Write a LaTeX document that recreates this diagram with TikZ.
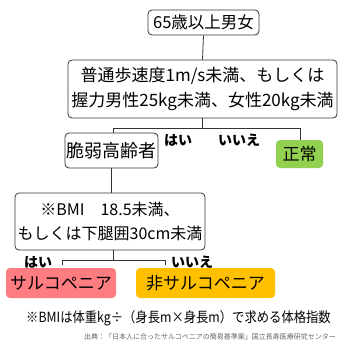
\documentclass[tikz,border=0pt]{standalone}
\usepackage{fontspec}
\setmainfont{Noto Sans CJK JP}
\begin{document}
\begin{tikzpicture}[x=1pt,y=-1pt,
  box/.style={draw=black!80, rounded corners=4pt, line width=0.8pt, inner sep=0pt, align=center, font=\fontsize{16}{24}\selectfont},
  cbox/.style={rounded corners=4pt, inner sep=0pt, align=center, font=\fontsize{17}{20}\selectfont},
  lbl/.style={font=\fontsize{14}{16}\selectfont\bfseries, inner sep=0pt},
  wire/.style={draw=black!80, line width=0.8pt}]
\useasboundingbox (0,0) rectangle (338,345);
\node[box, minimum width=111pt, minimum height=25pt, font=\fontsize{16.5}{20}\selectfont] (b1) at (203.5,22.5) {65歳以上男女};
\node[box, minimum width=269pt, minimum height=58pt, font=\fontsize{17}{25}\selectfont] (b2) at (202.5,89) {普通歩速度1m/s未満、もしくは\\握力男性25kg未満、女性20kg未満};
\node[box, minimum width=93pt, minimum height=35pt, font=\fontsize{18}{20}\selectfont] (b3) at (111.5,150.5) {脆弱高齢者};
\node[cbox, fill={rgb,255:red,146;green,208;blue,80}, minimum width=47pt, minimum height=28pt] (ok) at (299.5,154) {正常};
\node[box, minimum width=190pt, minimum height=57pt] (b4) at (110,221.5) {※BMI　18.5未満、\\もしくは下腿囲30cm未満};
\node[cbox, fill={rgb,255:red,255;green,124;blue,128}, minimum width=110pt, minimum height=30pt] (sa) at (61,283) {サルコペニア};
\node[cbox, fill={rgb,255:red,255;green,192;blue,0}, minimum width=139pt, minimum height=30pt] (ns) at (205.5,283) {非サルコペニア};
\node[lbl] (y1) at (178,140) {はい};
\node[lbl] (n1) at (239,140) {いいえ};
\node[lbl] (y2) at (38,262) {はい};
\node[lbl] (n2) at (192,262) {いいえ};
\node[font=\fontsize{14}{16}\selectfont, inner sep=0pt, xscale=0.88] (fn) at (178.5,318) {※BMIは体重kg÷（身長m×身長m）で求める体格指数};
\node[font=\fontsize{7}{8}\selectfont, text=black!60, inner sep=0pt] (src) at (210,337) {出典：「日本人に合ったサルコペニアの簡易基準案」国立長寿医療研究センター};
\draw[wire] (b1.south) -- (b2.north);
\coordinate (j1) at (202.5,128);
\coordinate (j1l) at (113,128);
\coordinate (j1r) at (300,128);
\draw[wire] (b2.south) -- (j1);
\draw[wire] (b3.north -| j1l) -- (j1l) -- (j1r) -- (ok.north -| j1r);
\draw[wire] (b3.south) -- (b3.south |- b4.north);
\coordinate (j2) at (113,260);
\coordinate (j2l) at (62,260);
\coordinate (j2r) at (165,260);
\draw[wire] (b4.south -| j2) -- (j2);
\draw[wire] (sa.north -| j2l) ++(0,-3) -- (j2l) -- (j2r) -- ++(0,5);
\end{tikzpicture}
\end{document}
